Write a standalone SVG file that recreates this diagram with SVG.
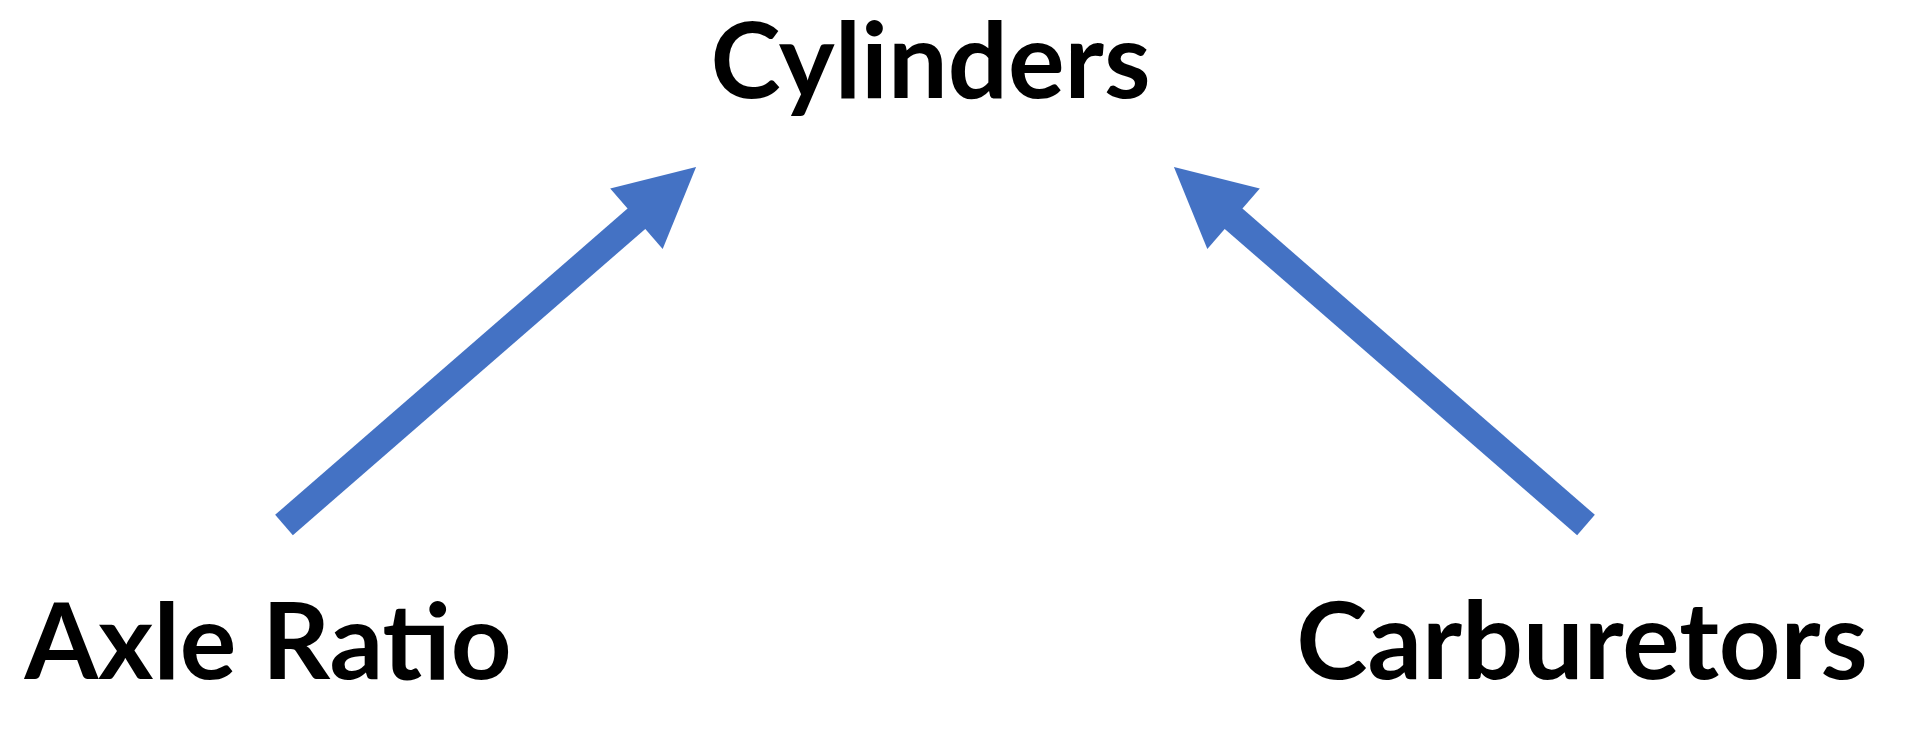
<svg xmlns="http://www.w3.org/2000/svg" width="1920" height="744" viewBox="0 0 1920 744">
  <style>
    .label { font-family: Lato, "Liberation Sans", sans-serif; font-weight: bold; font-size: 106px; fill: #000000; text-anchor: middle; }
    .conn { stroke: #4472C4; stroke-width: 27; fill: none; stroke-linecap: butt; }
  </style>
  <defs>
    <marker id="head" markerUnits="userSpaceOnUse" markerWidth="90" markerHeight="90" viewBox="0 -45 90 90" refX="3" refY="0" orient="auto" overflow="visible">
      <path d="M0,-40 L79,0 L0,40 Z" fill="#4472C4"/>
    </marker>
  </defs>
  <rect width="1920" height="744" fill="#ffffff"/>
  <g id="connectors">
    <line class="conn" x1="284" y1="525" x2="638.7" y2="216.8" marker-end="url(#head)"/>
    <line class="conn" x1="1586" y1="525" x2="1231.3" y2="216.8" marker-end="url(#head)"/>
  </g>
  <g id="node-cylinders">
    <text class="label" x="930.5" y="98">Cylinders</text>
  </g>
  <g id="node-axle-ratio">
    <text class="label" x="268" y="679">Axle Ratio</text>
  </g>
  <g id="node-carburetors">
    <text class="label" x="1582" y="679" style="font-size:107.5px">Carburetors</text>
  </g>
</svg>
